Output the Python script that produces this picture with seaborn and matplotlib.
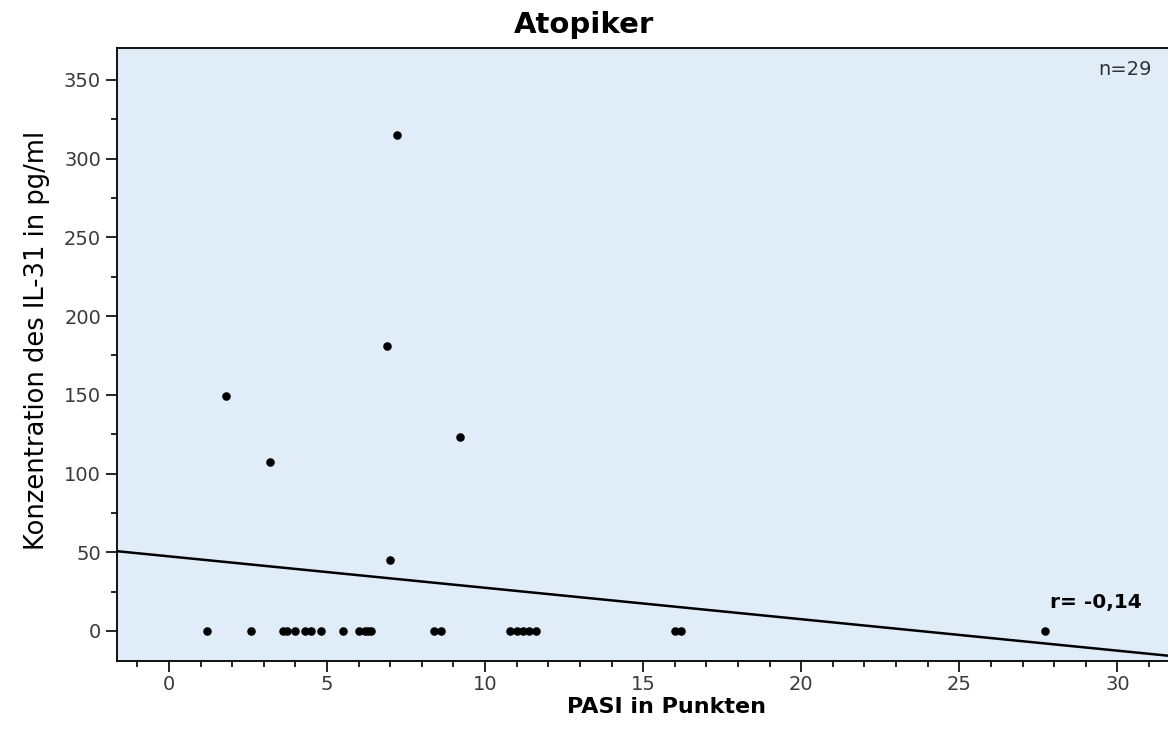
import numpy as np
import pandas as pd
import matplotlib
matplotlib.use("Agg")
import matplotlib.pyplot as plt
import seaborn as sns
from matplotlib.ticker import MultipleLocator

# PASI score and IL-31 concentration (n=29)
pasi = [1.2, 2.6, 3.6, 3.75, 4.0, 4.3, 4.5, 4.8, 5.5, 6.0, 6.2, 6.3, 6.4,
        8.4, 8.6, 10.8, 11.0, 11.2, 11.4, 11.6, 16.0, 16.2, 27.7,
        1.8, 3.2, 6.9, 7.2, 9.2, 7.0]
il31 = [0, 0, 0, 0, 0, 0, 0, 0, 0, 0, 0, 0, 0,
        0, 0, 0, 0, 0, 0, 0, 0, 0, 0,
        149, 107, 181, 315, 123, 45]

x_ticks = [0, 5, 10, 15, 20, 25, 30]
y_ticks = [0, 50, 100, 150, 200, 250, 300, 350]

df = pd.DataFrame({"PASI": pasi, "IL31": il31})

sns.set_style("ticks")
plt.rcParams['font.family'] = ['DejaVu Sans']

fig = plt.figure(figsize=(11.68, 7.36), dpi=100)
ax = fig.add_axes([0.1002, 0.1019, 0.8998, 0.8329])
ax.set_facecolor('#E1ECF9')
ax.set_xlim(-1.64, 31.6)
ax.set_ylim(-19.1, 370.3)

sns.regplot(x='PASI', y='IL31', data=df, ax=ax, ci=None, truncate=False,
            scatter_kws={'s': 38, 'color': 'black', 'alpha': 1, 'linewidths': 0},
            line_kws={'color': 'black', 'linewidth': 1.8})

ax.set_xlim(-1.64, 31.6)
ax.set_ylim(-19.1, 370.3)
ax.set_xticks(x_ticks)
ax.set_yticks(y_ticks)
ax.xaxis.set_minor_locator(MultipleLocator(1))
ax.yaxis.set_minor_locator(MultipleLocator(25))
ax.tick_params(which='major', length=8, width=1.2, colors='black',
               labelcolor='#3a3a3a', labelsize=14, direction='out')
ax.tick_params(axis='x', which='major', pad=2)
ax.tick_params(which='minor', length=4, width=1.2, colors='black', direction='out')

for side in ['left', 'bottom', 'top']:
    ax.spines[side].set_color('black')
    ax.spines[side].set_linewidth(1.3)
ax.spines['right'].set_visible(False)

ax.set_xlabel('')
ax.set_ylabel('')
fig.suptitle('Atopiker', fontsize=21, fontweight='bold', color='black',
             x=0.5, y=0.985)
fig.text(0.571, 0.040, 'PASI in Punkten', fontsize=16, fontweight='bold',
         color='black', ha='center', va='center')
fig.text(0.032, 0.538, 'Konzentration des IL-31 in pg/ml', fontsize=18.5,
         color='black', rotation=90, ha='center', va='center')

ax.text(0.985, 0.965, 'n=29', transform=ax.transAxes, fontsize=14,
        color='#333333', ha='right', va='center')
ax.text(0.975, 0.095, 'r= -0,14', transform=ax.transAxes, fontsize=14.5,
        fontweight='bold', color='black', ha='right', va='center')

fig.savefig('out.png', dpi=100)
